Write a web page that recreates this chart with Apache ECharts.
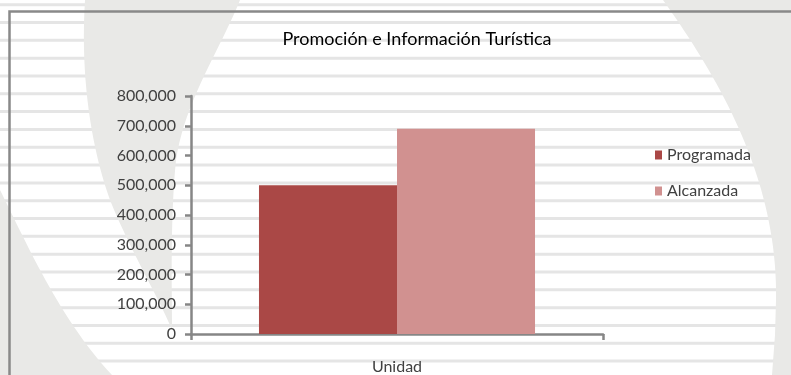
<!DOCTYPE html>
<html>
<head>
<meta charset="utf-8">
<script src="https://cdn.jsdelivr.net/npm/echarts@6/dist/echarts.min.js"></script>
<style>
  html, body { margin: 0; padding: 0; background: #ffffff; }
  #chart { width: 791px; height: 375px; }
</style>
</head>
<body>
<div id="chart"></div>
<script>
// Chart data
const categories = ['Unidad'];
const seriesNames = ['Programada', 'Alcanzada'];
const programada = [500000];
const alcanzada = [690000];
const yTicks = [0, 100000, 200000, 300000, 400000, 500000, 600000, 700000, 800000];

const W = 791, H = 375;
const FONT = 'Lato, "Open Sans", sans-serif';

// Sample a cubic Bezier into polygon points
function cubic(p0, p1, p2, p3, n) {
  const pts = [];
  for (let i = 0; i <= n; i++) {
    const t = i / n, u = 1 - t;
    pts.push([
      u*u*u*p0[0] + 3*u*u*t*p1[0] + 3*u*t*t*p2[0] + t*t*t*p3[0],
      u*u*u*p0[1] + 3*u*u*t*p1[1] + 3*u*t*t*p2[1] + t*t*t*p3[1]
    ]);
  }
  return pts;
}

// Page decoration: thin horizontal stripes plus soft grey curved panels
const decor = [];
for (let y = 3.2; y < H; y += 17.82) {
  decor.push({
    type: 'rect', z: -5, silent: true,
    shape: { x: 0, y: y, width: W, height: 3 },
    style: { fill: '#e5e5e5' }
  });
}
const panelFill = '#e9e9e7';
const lens = [[85, 0], [240, 0]]
  .concat(cubic([240, 0], [220, 50], [185, 100], [176, 160], 20).slice(1))
  .concat(cubic([176, 160], [170, 220], [172, 290], [172, 330], 20).slice(1))
  .concat(cubic([172, 330], [160, 300], [130, 250], [110, 200], 20).slice(1))
  .concat(cubic([110, 200], [92, 150], [80, 80], [85, 0], 20).slice(1));
const cornerBL = cubic([0, 190], [25, 240], [60, 320], [112, 375], 30).concat([[0, 375]]);
const cornerR = cubic([663, 0], [720, 80], [778, 180], [776, 300], 40)
  .concat([[775, 335], [772, 375], [W, 375], [W, 0]]);
[lens, cornerBL, cornerR].forEach(pts => decor.push({
  type: 'polygon', z: -4, silent: true,
  shape: { points: pts },
  style: { fill: panelFill }
}));
// Chart-area frame (top and left edges)
decor.push({
  type: 'polyline', z: -3, silent: true,
  shape: { points: [[9.5, 380], [9.5, 11.5], [800, 11.5]] },
  style: { stroke: '#898989', lineWidth: 2.5, fill: null }
});

const chart = echarts.init(document.getElementById('chart'), null, { renderer: 'canvas' });
chart.setOption({
  animation: false,
  backgroundColor: 'transparent',
  graphic: { elements: decor },
  title: {
    text: 'Promoción e Información Turística',
    left: 417, top: 28,
    textAlign: 'center',
    padding: 0,
    textStyle: { fontFamily: FONT, fontSize: 18, fontWeight: 'normal', color: '#000000', lineHeight: 22 }
  },
  legend: {
    orient: 'vertical',
    left: 655, top: 146,
    padding: 0,
    icon: 'rect',
    itemWidth: 7, itemHeight: 9,
    itemGap: 18,
    data: seriesNames,
    textStyle: { fontFamily: FONT, fontSize: 16, color: '#404040', lineHeight: 18 }
  },
  grid: { left: 191, right: 188, top: 96, bottom: 41, containLabel: false },
  xAxis: {
    type: 'category',
    data: categories,
    axisLine: { lineStyle: { color: '#868686', width: 2.5 } },
    axisTick: { show: true, length: 6, lineStyle: { color: '#868686', width: 2.5 } },
    axisLabel: { margin: 25, fontFamily: FONT, fontSize: 16, color: '#404040' }
  },
  yAxis: {
    type: 'value',
    min: yTicks[0], max: yTicks[yTicks.length - 1], interval: yTicks[1] - yTicks[0],
    splitLine: { show: false },
    axisLine: { show: true, lineStyle: { color: '#868686', width: 2.5 } },
    axisTick: { show: true, length: 6, lineStyle: { color: '#868686', width: 2.5 } },
    axisLabel: {
      margin: 15, fontFamily: FONT, fontSize: 16, color: '#404040',
      formatter: v => v.toLocaleString('en-US')
    }
  },
  series: [
    {
      name: seriesNames[0], type: 'bar', data: programada,
      barGap: '0%', barCategoryGap: '33%',
      itemStyle: { color: '#aa4846' }
    },
    {
      name: seriesNames[1], type: 'bar', data: alcanzada,
      barGap: '0%', barCategoryGap: '33%',
      itemStyle: { color: '#d19190' }
    }
  ]
});
</script>
</body>
</html>
